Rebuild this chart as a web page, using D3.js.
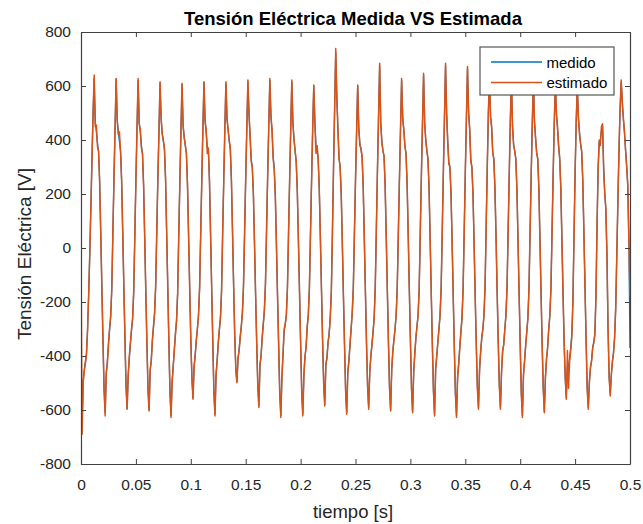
<!DOCTYPE html>
<html>
<head>
<meta charset="utf-8">
<script src="https://cdn.jsdelivr.net/npm/d3@7"></script>
<style>
    body { margin: 0; background: #fff; }
    text { font-family: "Liberation Sans", Arial, Helvetica, sans-serif; }
</style>
</head>
<body>
<div id="chart"></div>
<script>
// muestreo cada 1 ms, de 0 a 0.5 s
var paso = 0.001;

// tension medida [V], una fila por ciclo (empieza en cada pico)
var medido = [
    -560, -660, -490, -450, -420, -390, -300, -170, -20, 150, 330, 500,
    628, 465, 430, 390, 355, 245, 55, -140, -335, -525, -610, -470, -420, -355, -305, -260, -160, 45, 250, 440,
    625, 475, 430, 395, 360, 250, 60, -140, -330, -510, -595, -470, -410, -355, -305, -265, -165, 40, 250, 440,
    620, 465, 430, 380, 350, 235, 45, -155, -345, -520, -600, -455, -415, -345, -295, -245, -145, 55, 255, 430,
    610, 475, 425, 395, 365, 255, 60, -140, -340, -530, -620, -490, -435, -375, -320, -270, -170, 40, 240, 430,
    605, 455, 410, 380, 350, 235, 45, -150, -335, -480, -555, -440, -395, -345, -300, -250, -150, 50, 250, 440,
    612, 470, 430, 375, 360, 250, 55, -145, -340, -530, -615, -470, -415, -355, -305, -260, -160, 50, 250, 440,
    610, 475, 435, 395, 365, 250, 60, -140, -320, -450, -495, -410, -375, -330, -290, -240, -140, 55, 255, 440,
    615, 495, 410, 330, 300, 200, 20, -170, -345, -505, -585, -435, -400, -335, -285, -235, -135, 65, 265, 450,
    620, 485, 430, 340, 295, 190, 10, -180, -355, -535, -620, -475, -395, -310, -285, -250, -150, 50, 250, 440,
    615, 465, 405, 360, 320, 210, 30, -160, -345, -530, -615, -470, -405, -365, -295, -250, -150, 50, 250, 440,
    600, 465, 380, 365, 330, 220, 40, -150, -335, -500, -580, -435, -405, -350, -315, -260, -160, 60, 295, 515,
    725, 555, 440, 335, 300, 200, 20, -175, -355, -530, -610, -460, -415, -355, -300, -245, -150, 50, 250, 430,
    600, 445, 385, 365, 335, 230, 40, -155, -345, -510, -590, -460, -400, -355, -310, -260, -145, 70, 285, 485,
    675, 465, 395, 360, 340, 230, 40, -155, -345, -520, -600, -450, -385, -340, -300, -250, -150, 50, 250, 440,
    622, 480, 435, 380, 350, 240, 50, -150, -340, -520, -605, -460, -395, -335, -290, -250, -150, 60, 265, 455,
    640, 465, 400, 360, 330, 220, 30, -165, -355, -530, -615, -450, -400, -350, -300, -250, -150, 60, 275, 475,
    675, 495, 395, 320, 300, 200, 20, -175, -365, -540, -620, -475, -425, -365, -310, -260, -150, 60, 275, 475,
    665, 500, 435, 330, 300, 200, 20, -175, -355, -515, -590, -450, -385, -335, -300, -250, -145, 75, 295, 495,
    632, 485, 445, 355, 330, 220, 40, -160, -345, -510, -590, -460, -385, -355, -300, -250, -150, 60, 265, 465,
    622, 455, 385, 360, 330, 220, 30, -165, -355, -535, -620, -470, -415, -360, -310, -260, -150, 60, 265, 455,
    618, 470, 405, 355, 330, 220, 30, -165, -355, -520, -605, -475, -410, -365, -300, -250, -150, 60, 265, 455,
    608, 495, 440, 375, 330, 220, 30, -165, -345, -480, -555, -440, -440, -410, -370, -320, -200, 40, 275, 465,
    595, 480, 430, 385, 355, 250, 60, -140, -335, -515, -590, -495, -445, -415, -370, -350, -320, -180, 85, 295,
    395, 400, 435, 450, 300, 205, 140, -25, -295, -475, -540, -470, -420, -385, -330, -220, -25, 175, 365, 515,
    615, 535, 475, 425, 360, 300, 230, 20, -370
];

// tension estimada [V]
var estimado = [
    -20, -690, -500, -455, -430, -395, -300, -170, -20, 150, 330, 500,
    641, 450, 455, 375, 360, 240, 50, -150, -340, -520, -622, -460, -430, -360, -300, -250, -150, 50, 250, 440,
    628, 470, 420, 430, 360, 250, 60, -140, -330, -510, -597, -470, -400, -350, -300, -260, -160, 40, 250, 440,
    628, 460, 440, 370, 350, 230, 40, -160, -350, -520, -604, -450, -420, -340, -290, -240, -140, 60, 260, 430,
    616, 480, 420, 400, 370, 260, 60, -140, -340, -530, -628, -500, -440, -380, -320, -270, -170, 40, 240, 430,
    610, 450, 410, 380, 350, 230, 40, -150, -340, -480, -560, -440, -400, -340, -300, -250, -150, 50, 250, 440,
    616, 470, 440, 350, 370, 250, 50, -150, -340, -530, -622, -470, -420, -350, -300, -260, -160, 50, 250, 440,
    616, 480, 440, 400, 370, 250, 60, -140, -320, -450, -499, -410, -380, -330, -290, -240, -140, 60, 260, 440,
    622, 500, 420, 320, 300, 200, 20, -170, -350, -510, -591, -430, -400, -330, -280, -230, -130, 70, 270, 450,
    628, 490, 440, 330, 290, 190, 10, -180, -360, -540, -628, -480, -390, -300, -280, -250, -150, 50, 250, 440,
    622, 460, 400, 360, 320, 210, 30, -160, -350, -530, -622, -470, -400, -370, -290, -250, -150, 50, 250, 440,
    604, 470, 350, 380, 330, 220, 40, -150, -340, -500, -585, -430, -410, -350, -320, -260, -160, 60, 300, 520,
    739, 560, 440, 330, 300, 200, 20, -180, -360, -530, -616, -460, -420, -360, -300, -240, -150, 50, 250, 430,
    604, 440, 380, 370, 340, 230, 40, -160, -350, -510, -597, -460, -400, -360, -310, -260, -140, 70, 290, 490,
    684, 460, 390, 360, 340, 230, 40, -160, -350, -520, -604, -450, -380, -340, -300, -250, -150, 50, 250, 440,
    628, 480, 440, 376, 350, 240, 50, -150, -340, -520, -610, -460, -390, -330, -290, -250, -150, 60, 270, 460,
    647, 460, 400, 360, 330, 220, 30, -170, -360, -530, -622, -450, -400, -350, -300, -250, -150, 60, 280, 480,
    684, 500, 390, 310, 300, 200, 20, -180, -370, -540, -628, -480, -430, -370, -310, -260, -150, 60, 280, 480,
    672, 505, 444, 320, 300, 200, 20, -180, -360, -520, -597, -450, -380, -330, -300, -250, -140, 80, 300, 500,
    640, 487, 450, 351, 330, 220, 40, -160, -350, -510, -597, -460, -380, -360, -300, -250, -150, 60, 270, 470,
    630, 450, 380, 360, 330, 220, 30, -170, -360, -540, -628, -470, -420, -360, -310, -260, -150, 60, 270, 460,
    625, 470, 410, 350, 330, 220, 30, -170, -360, -520, -610, -480, -410, -370, -300, -250, -150, 60, 270, 460,
    615, 500, 450, 380, 330, 220, 30, -170, -350, -480, -560, -380, -520, -420, -380, -330, -200, 40, 280, 470,
    600, 487, 420, 388, 360, 250, 60, -140, -340, -520, -597, -500, -440, -420, -370, -350, -320, -180, 90, 300,
    400, 380, 450, 460, 290, 200, 150, -20, -300, -480, -548, -470, -420, -390, -330, -220, -20, 180, 370, 520,
    622, 540, 480, 430, 360, 300, 230, 20, -180
];

var xTicks = [0, 0.05, 0.1, 0.15, 0.2, 0.25, 0.3, 0.35, 0.4, 0.45, 0.5];
var xTickLabels = ['0', '0.05', '0.1', '0.15', '0.2', '0.25', '0.3', '0.35', '0.4', '0.45', '0.5'];
var yTicks = [-800, -600, -400, -200, 0, 200, 400, 600, 800];
var yTickLabels = ['-800', '-600', '-400', '-200', '0', '200', '400', '600', '800'];
var series = ['medido', 'estimado'];
var colores = ['#0072BD', '#D95319'];
var grosores = [1.3, 1.5];

var width = 643, height = 524;
var margin = {top: 32, right: 13, bottom: 60, left: 81};
var w = width - margin.left - margin.right;
var h = height - margin.top - margin.bottom;

var svg = d3.select('#chart').append('svg')
    .attr('width', width)
    .attr('height', height);

var x = d3.scaleLinear().domain([0, 0.5]).range([0, w]);
var y = d3.scaleLinear().domain([-800, 800]).range([h, 0]);

var g = svg.append('g').attr('transform', 'translate(' + margin.left + ',' + margin.top + ')');

g.append('defs').append('clipPath').attr('id', 'clip')
    .append('rect').attr('width', w).attr('height', h);

var line = d3.line()
    .x(function (d, i) { return x(i * paso); })
    .y(function (d) { return y(d); });

[medido, estimado].forEach(function (valores, k) {
    g.append('path')
        .datum(valores)
        .attr('clip-path', 'url(#clip)')
        .attr('fill', 'none')
        .attr('stroke', colores[k])
        .attr('stroke-width', grosores[k])
        .attr('stroke-linejoin', 'round')
        .attr('d', line);
});

var estiloEje = function (sel) {
    sel.select('.domain').attr('stroke', '#404040').attr('stroke-width', 1.2);
    sel.selectAll('.tick line').attr('stroke', '#404040').attr('stroke-width', 1);
    sel.selectAll('.tick text')
        .attr('fill', '#262626')
        .style('font-size', '15.5px');
};

g.append('g')
    .attr('transform', 'translate(0,' + h + ')')
    .call(d3.axisBottom(x).tickValues(xTicks)
        .tickFormat(function (d, i) { return xTickLabels[i]; })
        .tickSizeInner(-5).tickSizeOuter(0).tickPadding(15))
    .call(estiloEje);

g.append('g')
    .call(d3.axisTop(x).tickValues(xTicks).tickFormat('')
        .tickSizeInner(-5).tickSizeOuter(0))
    .call(estiloEje);

g.append('g')
    .call(d3.axisLeft(y).tickValues(yTicks)
        .tickFormat(function (d, i) { return yTickLabels[i]; })
        .tickSizeInner(-5).tickSizeOuter(0).tickPadding(10))
    .call(estiloEje);

g.append('g')
    .attr('transform', 'translate(' + w + ',0)')
    .call(d3.axisRight(y).tickValues(yTicks).tickFormat('')
        .tickSizeInner(-5).tickSizeOuter(0))
    .call(estiloEje);

// titulo y etiquetas
svg.append('text')
    .attr('x', 353).attr('y', 25)
    .attr('text-anchor', 'middle')
    .style('font-size', '18.5px').style('font-weight', 'bold')
    .attr('fill', '#000')
    .text('Tensión Eléctrica Medida VS Estimada');

svg.append('text')
    .attr('x', 353).attr('y', 518)
    .attr('text-anchor', 'middle')
    .style('font-size', '18.5px')
    .attr('fill', '#262626')
    .text('tiempo [s]');

svg.append('text')
    .attr('transform', 'translate(31,254) rotate(-90)')
    .attr('text-anchor', 'middle')
    .style('font-size', '19px')
    .attr('fill', '#262626')
    .text('Tensión Eléctrica [V]');

// leyenda
var leg = svg.append('g').attr('transform', 'translate(480,47)');
leg.append('rect')
    .attr('width', 134).attr('height', 48)
    .attr('fill', '#fff')
    .attr('stroke', '#555')
    .attr('stroke-width', 1.2);
series.forEach(function (nombre, k) {
    var yy = 15 + k * 20.6;
    leg.append('line')
        .attr('x1', 11).attr('x2', 62)
        .attr('y1', yy).attr('y2', yy)
        .attr('stroke', colores[k]).attr('stroke-width', 1.5);
    leg.append('text')
        .attr('x', 66.5).attr('y', yy + 5.5)
        .style('font-size', '15px')
        .attr('fill', '#000')
        .text(nombre);
});
</script>
</body>
</html>
